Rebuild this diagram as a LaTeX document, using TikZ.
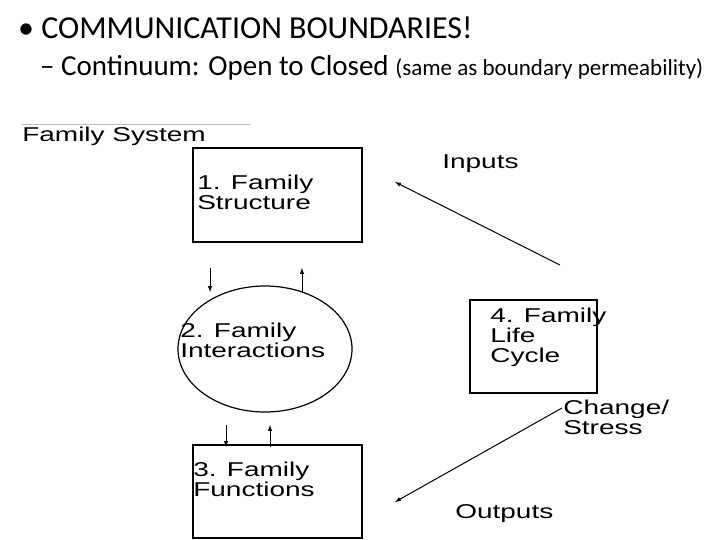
\documentclass[tikz,border=0pt]{standalone}
\usepackage{fontspec}
\setmainfont{Carlito}
\newfontfamily\arial{Liberation Sans}
\usetikzlibrary{shapes.geometric}
\begin{document}
\begin{tikzpicture}[x=1pt,y=-1pt,
  lbl/.style={font=\arial\fontsize{20}{20}\selectfont,align=left,inner sep=0,anchor=north west,xscale=1.4},
  boxs/.style={draw,line width=1.2pt},
  arr/.style={-latex,line width=1pt}]
\useasboundingbox (0,0) rectangle (720,540);
\node[anchor=west,font=\fontsize{32}{34}\selectfont,inner sep=0] (t1) at (18,28) {\textbullet\ COMMUNICATION BOUNDARIES!};
\node[anchor=west,font=\fontsize{29}{32}\selectfont,inner sep=0] (t2) at (40,68) {-- Continuum: Open to Closed {\fontsize{23}{26}\selectfont (same as boundary permeability)}};
\draw[gray!50,line width=1pt] (22,125) -- (250,125);
\node[lbl] (fs) at (22,127) {Family System};
\draw[boxs] (193,148) rectangle (362,242);
\node[lbl] (b1) at (197,175) {1. Family\\Structure};
\node[boxs,ellipse,minimum width=174,minimum height=126] (b2) at (265,349) {};
\node[lbl] at (180,323) {2. Family\\Interactions};
\draw[boxs] (470,300) rectangle (597,393);
\node[lbl] (b4) at (490,308) {4. Family\\Life\\Cycle};
\draw[boxs] (193,445) rectangle (362,538);
\node[lbl] (b3) at (193,462) {3. Family\\Functions};
\node[lbl] (in) at (442,155) {Inputs};
\node[lbl] (cs) at (563,400) {Change/\\Stress};
\node[lbl] (out) at (455,504) {Outputs};
\coordinate (a1) at (210,268); \coordinate (a2) at (210,292);
\coordinate (a3) at (302,292); \coordinate (a4) at (302,268);
\coordinate (c1) at (226,425); \coordinate (c2) at (226,447);
\coordinate (c3) at (270,447); \coordinate (c4) at (270,425);
\coordinate (i1) at (560,265); \coordinate (i2) at (395,182);
\coordinate (o1) at (562,408); \coordinate (o2) at (395,502);
\draw[arr] (a1) -- (a2);
\draw[arr] (a3) -- (a4);
\draw[arr] (c1) -- (c2);
\draw[arr] (c3) -- (c4);
\draw[arr] (i1) -- (i2);
\draw[arr] (o1) -- (o2);
\end{tikzpicture}
\end{document}
